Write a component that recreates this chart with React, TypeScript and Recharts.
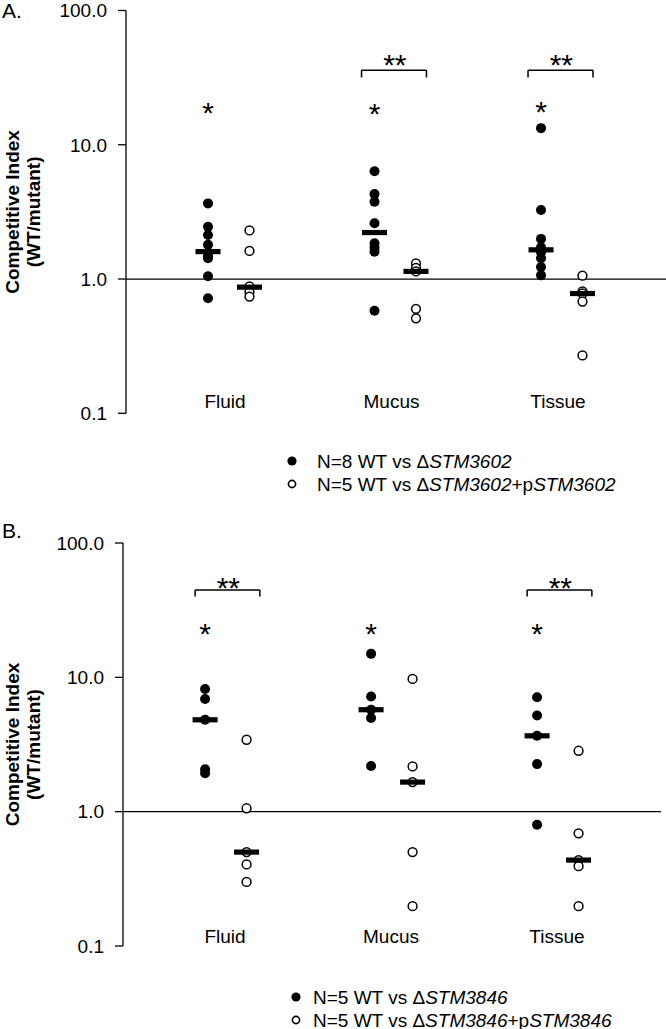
import React from 'react';
import { ScatterChart, Scatter, XAxis, YAxis, ReferenceLine } from 'recharts';

const FONT = '"Liberation Sans", Arial, Helvetica, sans-serif';

const categories = ['Fluid', 'Mucus', 'Tissue'];
const yTicks = [0.1, 1, 10, 100];

// Panel A: WT vs STM3602 mutant (filled) and complemented (open)
const aMutant = [
  [3.66, 2.45, 2.13, 1.8, 1.5, 1.43, 1.05, 0.72],
  [6.35, 4.29, 3.76, 2.6, 1.85, 1.72, 1.6, 0.58],
  [13.3, 3.27, 1.99, 1.72, 1.58, 1.43, 1.23, 1.065],
];
const aComp = [
  [2.3, 1.62, 0.88, 0.8, 0.74],
  [1.31, 1.21, 1.14, 0.6, 0.51],
  [1.06, 0.81, 0.78, 0.68, 0.27],
];
const aMutantMedian = [1.6, 2.22, 1.65];
const aCompMedian = [0.87, 1.14, 0.78];
const aStar = [19.4, 19.0, 19.8];
const aDoubleStar = [1, 2];

// Panel B: WT vs STM3846 mutant (filled) and complemented (open)
const bMutant = [
  [8.19, 6.9, 4.83, 2.07, 1.93],
  [14.95, 7.21, 5.74, 4.98, 2.19],
  [7.1, 5.2, 3.67, 2.26, 0.8],
];
const bComp = [
  [3.43, 1.06, 0.5, 0.405, 0.3],
  [9.73, 2.17, 1.66, 0.5, 0.198],
  [2.84, 0.69, 0.436, 0.393, 0.198],
];
const bMutantMedian = [4.83, 5.74, 3.67];
const bCompMedian = [0.5, 1.66, 0.436];
const bStar = [23.9, 23.9, 23.9];
const bDoubleStar = [0, 2];

type PanelProps = {
  top: number;
  height: number;
  margin: { top: number; right: number; bottom: number; left: number };
  axisWidth: number;
  xDomain: [number, number];
  mutant: number[][];
  comp: number[][];
  mutantMedian: number[];
  compMedian: number[];
  star: number[];
  doubleStar: number[];
  offsets: [number, number];
  labelY: number;
  bracket: { top: number; leg: number; text: number };
};

const FilledDot = (p: any) => <circle cx={p.cx} cy={p.cy} r={5} fill="#000" />;
const OpenDot = (p: any) => (
  <circle cx={p.cx} cy={p.cy} r={4.4} fill="#fff" stroke="#000" strokeWidth={1.5} />
);
const MedianBar = (p: any) => <rect x={p.cx - 12.5} y={p.cy - 2.6} width={25} height={5.2} fill="#000" />;
const TextMark = (p: any) => (
  <text
    x={p.cx}
    y={p.cy + (p.payload.dy || 0)}
    textAnchor="middle"
    fontFamily={FONT}
    fontSize={p.payload.size}
    fill="#000"
  >
    {p.payload.label}
  </text>
);

const YTitle = (props: any) => {
  const vb = props.viewBox;
  const cy = vb.y + vb.height / 2;
  return (
    <g fontFamily={FONT} fontSize={19} fontWeight="bold" fill="#000" textAnchor="middle">
      <text x={19} y={cy} transform={`rotate(-90, 19, ${cy})`}>Competitive Index</text>
      <text x={40} y={cy} transform={`rotate(-90, 40, ${cy})`}>(WT/mutant)</text>
    </g>
  );
};

const Panel = (cfg: PanelProps) => {
  const [offF, offO] = cfg.offsets;
  const filled = cfg.mutant.flatMap((vals, i) => vals.map((v) => ({ x: i + offF, y: v })));
  const open = cfg.comp.flatMap((vals, i) => vals.map((v) => ({ x: i + offO, y: v })));
  const medians = [
    ...cfg.mutantMedian.map((v, i) => ({ x: i + offF, y: v })),
    ...cfg.compMedian.map((v, i) => ({ x: i + offO, y: v })),
  ];
  const stars = cfg.star.map((v, i) => ({ x: i + offF, y: v, label: '*', size: 30, dy: 17 }));
  const doubles = cfg.doubleStar.map((i) => ({ x: i + 0.02, y: cfg.bracket.text, label: '**', size: 30, dy: 17 }));
  const labels = categories.map((c, i) => ({ x: i, y: cfg.labelY, label: c, size: 19, dy: 7 }));

  return (
    <div style={{ position: 'absolute', left: 0, top: cfg.top }}>
      <ScatterChart width={666} height={cfg.height} margin={cfg.margin}>
        <XAxis type="number" dataKey="x" domain={cfg.xDomain} allowDataOverflow hide />
        <YAxis
          type="number"
          dataKey="y"
          scale="log"
          domain={[0.1, 100]}
          ticks={yTicks}
          interval={0}
          allowDataOverflow
          width={cfg.axisWidth}
          tickSize={8}
          tickMargin={11}
          tickFormatter={(v: number) => v.toFixed(1)}
          tick={{ fill: '#000', fontSize: 19, fontFamily: FONT }}
          axisLine={{ stroke: '#000', strokeWidth: 1.3 }}
          tickLine={{ stroke: '#000', strokeWidth: 1.3 }}
          label={<YTitle />}
        />
        <ReferenceLine y={1} stroke="#000" strokeWidth={1.2} />
        {cfg.doubleStar.map((i) => {
          const l = i - 0.18;
          const r = i + 0.21;
          const { top, leg } = cfg.bracket;
          return (
            <React.Fragment key={`br-${i}`}>
              <ReferenceLine segment={[{ x: l, y: top }, { x: r, y: top }]} stroke="#000" strokeWidth={1.5} />
              <ReferenceLine segment={[{ x: l, y: top }, { x: l, y: leg }]} stroke="#000" strokeWidth={1.5} />
              <ReferenceLine segment={[{ x: r, y: top }, { x: r, y: leg }]} stroke="#000" strokeWidth={1.5} />
            </React.Fragment>
          );
        })}
        <Scatter data={filled} shape={FilledDot} isAnimationActive={false} />
        <Scatter data={open} shape={OpenDot} isAnimationActive={false} />
        <Scatter data={medians} shape={MedianBar} isAnimationActive={false} />
        <Scatter data={stars} shape={TextMark} isAnimationActive={false} />
        <Scatter data={doubles} shape={TextMark} isAnimationActive={false} />
        <Scatter data={labels} shape={TextMark} isAnimationActive={false} />
      </ScatterChart>
    </div>
  );
};

const LegendBox = ({ top, dotX, textX, gene }: { top: number; dotX: number; textX: number; gene: string }) => (
  <svg
    style={{ position: 'absolute', left: 0, top }}
    width={666}
    height={50}
    fontFamily={FONT}
    fontSize={19}
  >
    <circle cx={dotX} cy={12} r={4.6} fill="#000" />
    <circle cx={dotX} cy={35} r={3.6} fill="#fff" stroke="#000" strokeWidth={1.6} />
    <text x={textX} y={19} fill="#000">
      N={gene === 'STM3602' ? 8 : 5} WT vs Δ<tspan fontStyle="italic">{gene}</tspan>
    </text>
    <text x={textX} y={42} fill="#000">
      N=5 WT vs Δ<tspan fontStyle="italic">{gene}</tspan>+p<tspan fontStyle="italic">{gene}</tspan>
    </text>
  </svg>
);

const panelLabel: React.CSSProperties = {
  position: 'absolute',
  left: 2,
  fontFamily: FONT,
  fontSize: 21,
  lineHeight: '21px',
};

export default function App() {
  return (
    <div style={{ position: 'absolute', left: 0, top: 0, width: 666, height: 1029, background: '#fff' }}>
      <style>{'svg.recharts-surface { overflow: visible; }'}</style>
      <div style={{ ...panelLabel, top: 0 }}>A.</div>
      <div style={{ ...panelLabel, top: 520 }}>B.</div>
      <Panel
        top={0}
        height={432}
        margin={{ top: 10.5, right: 0, bottom: 18.7, left: 0 }}
        axisWidth={126}
        xDomain={[-0.5946, 2.6486]}
        mutant={aMutant}
        comp={aComp}
        mutantMedian={aMutantMedian}
        compMedian={aCompMedian}
        star={aStar}
        doubleStar={aDoubleStar}
        offsets={[-0.102, 0.147]}
        labelY={0.124}
        bracket={{ top: 35.9, leg: 31.7, text: 44.6 }}
      />
      <LegendBox top={449} dotX={292} textX={317} gene="STM3602" />
      <Panel
        top={520}
        height={447}
        margin={{ top: 23, right: 5, bottom: 21, left: 0 }}
        axisWidth={123}
        xDomain={[-0.6145, 2.6265]}
        mutant={bMutant}
        comp={bComp}
        mutantMedian={bMutantMedian}
        compMedian={bCompMedian}
        star={bStar}
        doubleStar={bDoubleStar}
        offsets={[-0.12, 0.13]}
        labelY={0.118}
        bracket={{ top: 44.6, leg: 40.0, text: 52.0 }}
      />
      <LegendBox top={985} dotX={296} textX={313} gene="STM3846" />
    </div>
  );
}
